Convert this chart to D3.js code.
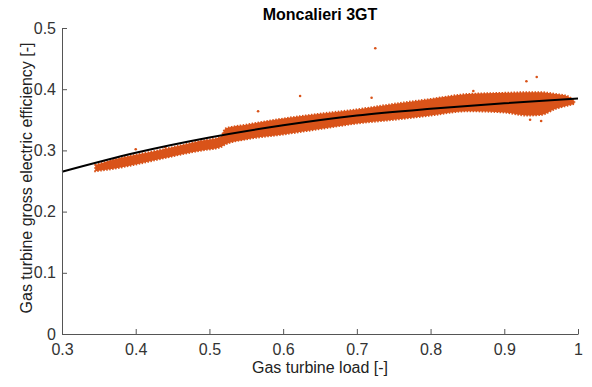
<!DOCTYPE html>
<html lang="en">
  <head>
    <meta charset="utf-8">
    <title>Moncalieri 3GT</title>
    <script src="https://d3js.org/d3.v7.js"></script>
    <style>
      body { margin: 0; background: white; overflow: hidden; }
      svg { display: block; }
      text { font-family: "Liberation Sans", Arial, sans-serif; }
    </style>
  </head>
  <body>
  <script>

// data

  var loadTicks = [0.3, 0.4, 0.5, 0.6, 0.7, 0.8, 0.9, 1];
  var effTicks = [0, 0.1, 0.2, 0.3, 0.4, 0.5];

  // scatter cloud envelope: load, lower and upper efficiency
  var cloudLoad = [0.345, 0.37, 0.40, 0.43, 0.46, 0.49, 0.515, 0.522, 0.55, 0.60,
                   0.65, 0.70, 0.75, 0.80, 0.85, 0.90, 0.93, 0.95, 0.97, 0.985, 0.995];
  var cloudLow  = [0.266, 0.270, 0.277, 0.285, 0.293, 0.300, 0.305, 0.310, 0.318, 0.326,
                   0.335, 0.344, 0.350, 0.357, 0.364, 0.362, 0.357, 0.358, 0.368, 0.373, 0.376];
  var cloudHigh = [0.276, 0.285, 0.293, 0.300, 0.308, 0.316, 0.322, 0.336, 0.342, 0.352,
                   0.360, 0.367, 0.376, 0.384, 0.392, 0.394, 0.395, 0.395, 0.392, 0.389, 0.381];

  // stray points outside the cloud
  var outLoad = [0.725, 0.623, 0.566, 0.72, 0.944, 0.93, 0.858, 0.40, 0.44, 0.935, 0.95];
  var outEff  = [0.467, 0.389, 0.364, 0.386, 0.420, 0.413, 0.397, 0.302, 0.305, 0.350, 0.348];

  // fitted curve
  var fitLoad = [0.3, 0.4, 0.5, 0.6, 0.7, 0.8, 0.9, 1.0];
  var fitEff  = [0.265, 0.296, 0.321, 0.341, 0.357, 0.368, 0.377, 0.385];

  var w = 592;
  var h = 387;
  var margin = {top: 28, right: 14, bottom: 53, left: 62};
  var innerWidth = w - margin.left - margin.right;
  var innerHeight = h - margin.top - margin.bottom;
  var orange = "#d95319";

  var xScale = d3.scaleLinear()
      .domain([0.3, 1])
      .range([0, innerWidth]);

  var yScale = d3.scaleLinear()
      .domain([0, 0.5])
      .range([innerHeight, 0]);

  var svg = d3.select("body")
    .append("svg")
      .attr("width", w)
      .attr("height", h);

  var plot = svg.append("g")
      .attr("transform", `translate (${margin.left}, ${margin.top})`);

// scatter cloud

  var cloud = cloudLoad.map((d, i) => ({x: d, lo: cloudLow[i], hi: cloudHigh[i]}));

  var area = d3.area()
      .x(d => xScale(d.x))
      .y0(d => yScale(d.lo))
      .y1(d => yScale(d.hi))
      .curve(d3.curveMonotoneX);

  plot.append("path")
      .datum(cloud)
      .attr("d", area)
      .attr("fill", orange)
      .attr("stroke", orange)
      .attr("stroke-width", 2)
      .attr("stroke-dasharray", "1.5 1.5");

  plot.selectAll("circle.out")
      .data(outLoad.map((d, i) => ({x: d, y: outEff[i]})))
      .enter().append("circle")
      .attr("class", "out")
      .attr("cx", d => xScale(d.x))
      .attr("cy", d => yScale(d.y))
      .attr("r", 1.3)
      .attr("fill", orange);

// fitted line

  var line = d3.line()
      .x(d => xScale(d[0]))
      .y(d => yScale(d[1]))
      .curve(d3.curveMonotoneX);

  plot.append("path")
      .datum(fitLoad.map((d, i) => [d, fitEff[i]]))
      .attr("d", line)
      .attr("fill", "none")
      .attr("stroke", "black")
      .attr("stroke-width", 2);

// axes (ticks point inward)

  var xAxis = d3.axisBottom(xScale)
      .tickValues(loadTicks)
      .tickSizeInner(-5)
      .tickSizeOuter(0)
      .tickPadding(10)
      .tickFormat(d3.format("~g"));

  var yAxis = d3.axisLeft(yScale)
      .tickValues(effTicks)
      .tickSizeInner(-5)
      .tickSizeOuter(0)
      .tickPadding(6)
      .tickFormat(d3.format("~g"));

  var gx = plot.append("g")
      .attr("transform", `translate (0, ${innerHeight})`)
      .call(xAxis);

  var gy = plot.append("g")
      .call(yAxis);

  [gx, gy].forEach(g => {
    g.select(".domain").attr("stroke", "#555");
    g.selectAll(".tick line").attr("stroke", "#555");
    g.selectAll(".tick text")
      .attr("fill", "#333")
      .style("font-size", "16px");
  });

// labels

  svg.append("text")
      .attr("x", margin.left + innerWidth / 2)
      .attr("y", 20)
      .attr("text-anchor", "middle")
      .style("font-size", "16px")
      .style("font-weight", "bold")
      .text("Moncalieri 3GT");

  svg.append("text")
      .attr("x", margin.left + innerWidth / 2)
      .attr("y", 373)
      .attr("text-anchor", "middle")
      .attr("fill", "#222")
      .style("font-size", "16px")
      .text("Gas turbine load [-]");

  svg.append("text")
      .attr("transform", `translate (32, ${margin.top + innerHeight / 2 - 3}) rotate(-90)`)
      .attr("text-anchor", "middle")
      .attr("fill", "#222")
      .style("font-size", "16px")
      .text("Gas turbine gross electric efficiency [-]");

  </script>
  </body>
</html>
